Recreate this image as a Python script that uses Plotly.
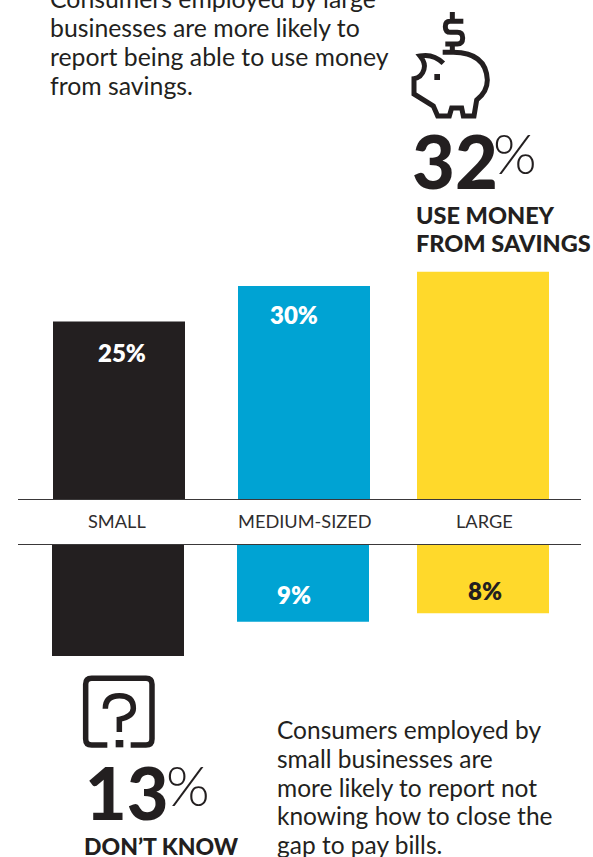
import plotly.graph_objects as go
from plotly.subplots import make_subplots

W, H = 593, 857

# Data
sizes = ["SMALL", "MEDIUM-SIZED", "LARGE"]
use_savings = [25, 30, 32]
dont_know = [13, 9, 8]
headline_savings = 32
headline_unknown = 13
intro_lines = [
    "Consumers employed by large",
    "businesses are more likely to",
    "report being able to use money",
    "from savings.",
]
outro_lines = [
    "Consumers employed by",
    "small businesses are",
    "more likely to report not",
    "knowing how to close the",
    "gap to pay bills.",
]

# Palette
INK = "#231f20"
BLUE = "#00a3d3"
YELLOW = "#ffd92b"
bar_colors = [INK, BLUE, YELLOW]

BODY = "Lato"
HEAVY = "Lato"

# Pixel geometry of the plot frame
LINE_L, LINE_R = 18, 581
BASE_TOP, BASE_BOTTOM = 499, 545
STEP = 182.0  # pixels between category slots
FIRST = 119.0  # pixel centre of the first slot
BAR_W = 132 / STEP
PX_TOP, PX_BOTTOM = 7.1, 8.54  # pixels per percentage point


def px(x):
    return x / W


def py(y):
    return 1 - y / H


fig = make_subplots(rows=2, cols=1)

fig.add_trace(go.Bar(
    x=sizes, y=use_savings, marker=dict(color=bar_colors, line_width=0),
    width=BAR_W, offset=[-BAR_W / 2, -BAR_W / 2 + 3 / STEP, -BAR_W / 2],
    hoverinfo="skip", showlegend=False), row=1, col=1)
fig.add_trace(go.Bar(
    x=sizes, y=dont_know, marker=dict(color=bar_colors, line_width=0),
    width=BAR_W, offset=[-BAR_W / 2 - 1 / STEP, -BAR_W / 2 + 2 / STEP, -BAR_W / 2],
    hoverinfo="skip", showlegend=False), row=2, col=1)

x_range = [(LINE_L - FIRST) / STEP, (LINE_R - FIRST) / STEP]
x_common = dict(
    type="category", categoryorder="array", categoryarray=sizes, range=x_range,
    domain=[px(LINE_L), px(LINE_R)], showgrid=False, zeroline=False, showticklabels=False,
    ticks="", showline=True, linecolor="#3a3839", linewidth=1, layer="below traces",
)
fig.update_xaxes(**x_common, row=1, col=1)
fig.update_xaxes(**x_common, side="top", row=2, col=1)
fig.update_yaxes(domain=[py(BASE_TOP), 1], range=[0, BASE_TOP / PX_TOP], visible=False, row=1, col=1)
fig.update_yaxes(domain=[0, py(BASE_BOTTOM)], range=[(H - BASE_BOTTOM) / PX_BOTTOM, 0],
                 visible=False, row=2, col=1)

ann = []


def text(x, y, s, size, color=INK, family=BODY, weight=400, anchor="left"):
    ann.append(dict(xref="paper", yref="paper", x=px(x), y=py(y), text=s, showarrow=False,
                    xanchor=anchor, yanchor="middle", borderpad=0,
                    font=dict(family=family, size=size, color=color, weight=weight)))


# Paragraphs
for i, line in enumerate(intro_lines):
    text(49, -1.5 + i * 29, line, 24.8)
for i, line in enumerate(outro_lines):
    text(276, 729.5 + i * 28.8, line, 24.5)

# Category labels between the two baselines
label_px = [116.5, 305, 484]
for i, name in enumerate(sizes):
    ann.append(dict(xref="x", yref="paper", x=i, y=py(521), text=name, showarrow=False,
                    xshift=label_px[i] - (FIRST + i * STEP), xanchor="center", yanchor="middle",
                    font=dict(family=BODY, size=18.2, color="#2f2d2e")))

# Value labels inside the bars; the tallest bar is labelled by the headline figure
for i, dx, dy in [(0, 3, -31), (1, -7, -28)]:
    v = use_savings[i]
    ann.append(dict(xref="x", yref="y", x=i, y=v, text=f"{v}%", showarrow=False,
                    xshift=dx, yshift=dy, xanchor="center", yanchor="middle",
                    font=dict(family=HEAVY, size=24, weight=800, color="white")))
for i, dx, dy in [(1, -7, 27), (2, 2, 23)]:
    v = dont_know[i]
    ann.append(dict(xref="x2", yref="y2", x=i, y=v, text=f"{v}%", showarrow=False,
                    xshift=dx, yshift=dy, xanchor="center", yanchor="middle",
                    font=dict(family=HEAVY, size=24, weight=800,
                              color=INK if bar_colors[i] == YELLOW else "white")))

# Headline figures
text(411, 160, str(headline_savings), 74, weight=900, family=HEAVY)
text(492, 152, "%", 56, weight=300)
text(415, 214.5, "USE MONEY", 23.5, weight=900, family=HEAVY)
text(415, 243.5, "FROM SAVINGS", 23.5, weight=900, family=HEAVY)

text(84, 792, str(headline_unknown), 72, weight=900, family=HEAVY)
text(165, 784, "%", 56, weight=300)
text(83, 845.5, "DON\u2019T KNOW", 23, weight=900, family=HEAVY)

shapes = []


def outline(points, ox, oy, width=4.0, fill=None):
    """Build a paper-space path from (command, x, y, ...) tuples given at triple scale."""
    parts = []
    for seg in points:
        cmd, *vals = seg
        coords = []
        for k in range(0, len(vals), 2):
            coords.append(f"{px(ox + vals[k] / 3):.5f},{py(oy + vals[k + 1] / 3):.5f}")
        parts.append(cmd + " ".join(coords))
    shapes.append(dict(type="path", xref="paper", yref="paper", path=" ".join(parts),
                       line=dict(color=INK, width=width),
                       fillcolor=fill if fill else "rgba(0,0,0,0)"))


# Piggy bank body
outline([
    ("M", 130, 190), ("Q", 100, 160, 60, 168), ("Q", 78, 190, 72, 208),
    ("Q", 65, 232, 42, 236), ("L", 42, 282), ("L", 100, 318), ("L", 113, 348), ("L", 148, 348),
    ("L", 155, 324), ("L", 185, 324), ("L", 190, 348), ("L", 222, 348),
    ("L", 230, 300), ("Q", 262, 275, 262, 240), ("Q", 258, 158, 160, 157), ("L", 128, 157),
], 400, 0, width=5)
# Coin: dollar sign above the slot
outline([
    ("M", 190, 64), ("L", 150, 64), ("Q", 136, 64, 136, 80), ("Q", 136, 97, 152, 97),
    ("L", 172, 97), ("Q", 188, 97, 188, 114), ("Q", 188, 132, 172, 132), ("L", 136, 132),
    ("M", 157, 36), ("L", 157, 64), ("M", 157, 132), ("L", 157, 157),
], 400, 0, width=5)
# Eye
outline([("M", 103, 222), ("L", 120, 222), ("L", 120, 240), ("L", 103, 240), ("Z",)], 400, 0, width=0, fill=INK)

# Question-mark box with a gap at the foot for the dot
outline([
    ("M", 142, 255), ("L", 95, 255), ("Q", 77, 255, 77, 237), ("L", 77, 73), ("Q", 77, 55, 95, 55),
    ("L", 258, 55), ("Q", 276, 55, 276, 73), ("L", 276, 237), ("Q", 276, 255, 258, 255), ("L", 212, 255),
], 60, 660, width=5.5)
outline([
    ("M", 136, 146), ("Q", 136, 107, 178, 107), ("Q", 220, 107, 220, 145), ("Q", 220, 170, 178, 178),
    ("L", 178, 216),
], 60, 660, width=5.5)
outline([("M", 167, 240), ("L", 190, 240), ("L", 190, 262), ("L", 167, 262), ("Z",)], 60, 660, width=0, fill=INK)

fig.update_layout(
    width=W, height=H, margin=dict(l=0, r=0, t=0, b=0), autosize=False,
    paper_bgcolor="white", plot_bgcolor="rgba(0,0,0,0)", barmode="overlay",
    annotations=ann, shapes=shapes, showlegend=False,
)
fig.write_html("out.html", config={"displayModeBar": False})
